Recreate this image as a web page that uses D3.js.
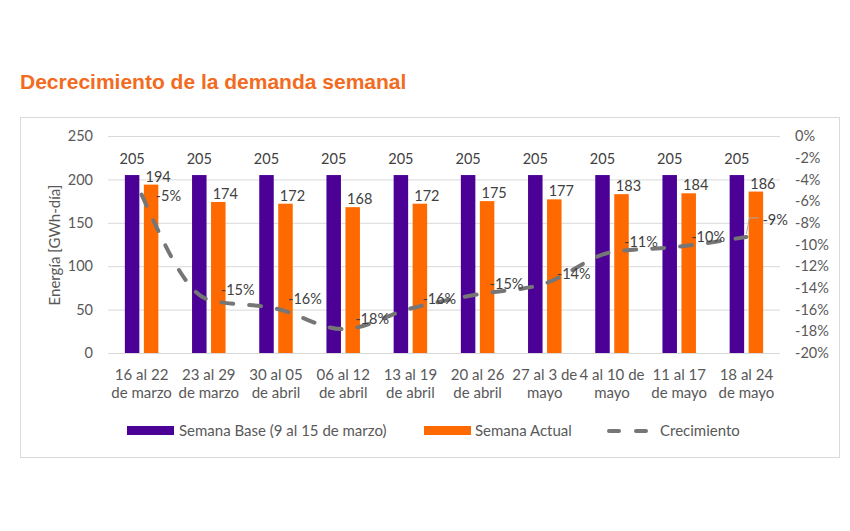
<!DOCTYPE html>
<html>
<head>
<meta charset="utf-8">
<script src="https://cdn.jsdelivr.net/npm/d3@7"></script>
<style>
  html, body { margin: 0; padding: 0; background: #ffffff; }
  svg { display: block; }
</style>
</head>
<body>
<svg id="chart" width="850" height="531"></svg>
<script>
// ---------------- DATA ----------------
const categoriesLine1 = ["16 al 22", "23 al 29", "30 al 05", "06 al 12", "13 al 19", "20 al 26", "27 al 3 de", "4 al 10 de", "11 al 17", "18 al 24"];
const categoriesLine2 = ["de marzo", "de marzo", "de abril", "de abril", "de abril", "de abril", "mayo", "mayo", "de mayo", "de mayo"];
const semanaBase   = [205, 205, 205, 205, 205, 205, 205, 205, 205, 205];
const semanaActual = [194, 174, 172, 168, 172, 175, 177, 183, 184, 186];
const crecimiento  = [-5.4, -15.1, -15.9, -17.8, -15.9, -14.6, -13.6, -10.7, -10.2, -9.3]; // percent
const leftTicks  = [0, 50, 100, 150, 200, 250];
const rightTicks = [0, -2, -4, -6, -8, -10, -12, -14, -16, -18, -20];
const seriesNames = ["Semana Base (9 al 15 de marzo)", "Semana Actual", "Crecimiento"];
const titleText = "Decrecimiento de la demanda semanal";
const yTitle = "Energía [GWh-día]";

// ---------------- LAYOUT ----------------
const purple = "#4B0096", orange = "#FF6A00", lineGray = "#767676";
const textGray = "#595959", labelGray = "#404040";
const FONT = "Lato, 'Open Sans', sans-serif";
const plot = { left: 108, right: 780, top: 136, bottom: 353 };

const svg = d3.select("#chart");
const idx = d3.range(categoriesLine1.length);

// Title
svg.append("text")
  .attr("x", 20).attr("y", 89)
  .attr("font-family", "'Liberation Sans', Arial, sans-serif")
  .attr("font-weight", "bold").attr("font-size", 21)
  .attr("fill", "#F26B1F")
  .text(titleText);

// Frame
svg.append("rect")
  .attr("x", 20.5).attr("y", 117.5).attr("width", 819).attr("height", 340)
  .attr("fill", "none").attr("stroke", "#d9d9d9").attr("stroke-width", 1);

// Scales
const x0 = d3.scaleBand().domain(idx).range([plot.left, plot.right]).paddingInner(0).paddingOuter(0);
const gw = x0.bandwidth();
const x1 = d3.scaleBand().domain(["base", "actual"])
  .range([gw / 2 - 16.75, gw / 2 + 16.75]).paddingInner(0.237).paddingOuter(0);
const y = d3.scaleLinear().domain([0, 250]).range([plot.bottom, plot.top]);
const y2 = d3.scaleLinear().domain([-20, 0]).range([plot.bottom, plot.top]);

// Left axis + gridlines
const gL = svg.append("g").attr("transform", `translate(${plot.left},0)`)
  .call(d3.axisLeft(y).tickValues(leftTicks).tickSize(-(plot.right - plot.left)).tickPadding(15));
gL.select(".domain").remove();
gL.selectAll(".tick line").attr("stroke", "#d9d9d9").attr("stroke-width", 1);
gL.selectAll(".tick text").attr("font-family", FONT).attr("font-size", 14.5).attr("fill", textGray);

// Right axis
const gR = svg.append("g").attr("transform", `translate(${plot.right},0)`)
  .call(d3.axisRight(y2).tickValues(rightTicks).tickSize(0).tickPadding(15)
    .tickFormat(d => Math.round(d) + "%"));
gR.select(".domain").remove();
gR.selectAll(".tick text").attr("font-family", FONT).attr("font-size", 14.5).attr("fill", textGray);

// Y title
svg.append("text")
  .attr("transform", "translate(60,245) rotate(-90)")
  .attr("text-anchor", "middle")
  .attr("font-family", FONT).attr("font-size", 15).attr("fill", textGray)
  .text(yTitle);

// Bars
const groups = svg.append("g").selectAll("g").data(idx).join("g")
  .attr("transform", i => `translate(${x0(i)},0)`);

groups.append("rect")
  .attr("x", x1("base")).attr("width", x1.bandwidth())
  .attr("y", i => y(semanaBase[i])).attr("height", i => y(0) - y(semanaBase[i]))
  .attr("fill", purple);
groups.append("rect")
  .attr("x", x1("actual")).attr("width", x1.bandwidth())
  .attr("y", i => y(semanaActual[i])).attr("height", i => y(0) - y(semanaActual[i]))
  .attr("fill", orange);

groups.append("text")
  .attr("x", x1("base") + x1.bandwidth() / 2)
  .attr("y", i => y(semanaBase[i]) - 11)
  .attr("text-anchor", "middle")
  .attr("font-family", FONT).attr("font-size", 14.5).attr("fill", labelGray)
  .text(i => semanaBase[i]);
groups.append("text")
  .attr("x", x1("actual") + x1.bandwidth() / 2 + 7)
  .attr("y", i => y(semanaActual[i]) - 3)
  .attr("text-anchor", "middle")
  .attr("font-family", FONT).attr("font-size", 14.5).attr("fill", labelGray)
  .text(i => semanaActual[i]);

// Growth line
const cx = i => x0(i) + gw / 2;
const line = d3.line().x(i => cx(i)).y(i => y2(crecimiento[i])).curve(d3.curveMonotoneX);
svg.append("path")
  .attr("d", line(idx))
  .attr("fill", "none").attr("stroke", lineGray).attr("stroke-width", 4)
  .attr("stroke-dasharray", "12,16").attr("stroke-linecap", "round");

// Growth labels
const last = idx.length - 1;
const labelPos = i => {
  if (i === 0) return { dx: 14, dy: 1 };
  if (i === last) return { dx: 16, dy: -17 };
  return { dx: 12, dy: -10 };
};
// leader line for the displaced last label
{
  const px = cx(last), py = y2(crecimiento[last]);
  svg.append("path")
    .attr("d", `M${px},${py - 3} L${px + 3},${py - 19} L${px + 12},${py - 19}`)
    .attr("fill", "none").attr("stroke", "#a6a6a6").attr("stroke-width", 1);
}
svg.append("g").selectAll("text").data(idx).join("text")
  .attr("x", i => cx(i) + labelPos(i).dx)
  .attr("y", i => y2(crecimiento[i]) + labelPos(i).dy)
  .attr("dy", "0.35em")
  .attr("font-family", FONT).attr("font-size", 14.5).attr("fill", labelGray)
  .text(i => Math.round(crecimiento[i]) + "%");

// Category labels
const gX = svg.append("g").attr("transform", `translate(0,${plot.bottom})`)
  .call(d3.axisBottom(x0).tickSize(0).tickFormat(""));
gX.select(".domain").remove();
gX.selectAll(".tick").each(function (i) {
  const t = d3.select(this).append("text")
    .attr("text-anchor", "middle")
    .attr("font-family", FONT).attr("font-size", 15).attr("fill", textGray);
  t.append("tspan").attr("x", 0).attr("y", 27).text(categoriesLine1[i]);
  t.append("tspan").attr("x", 0).attr("y", 45).text(categoriesLine2[i]);
});

// Legend
const lg = svg.append("g").attr("font-family", FONT).attr("font-size", 15).attr("fill", textGray);
lg.append("rect").attr("x", 127).attr("y", 426).attr("width", 47).attr("height", 9).attr("fill", purple);
lg.append("text").attr("x", 179).attr("y", 431).attr("dy", "0.35em").text(seriesNames[0]);
lg.append("rect").attr("x", 424).attr("y", 426).attr("width", 47).attr("height", 9).attr("fill", orange);
lg.append("text").attr("x", 475).attr("y", 431).attr("dy", "0.35em").text(seriesNames[1]);
lg.append("line").attr("x1", 609).attr("x2", 654).attr("y1", 431).attr("y2", 431)
  .attr("stroke", lineGray).attr("stroke-width", 4).attr("stroke-linecap", "round")
  .attr("stroke-dasharray", "10,17");
lg.append("text").attr("x", 660).attr("y", 431).attr("dy", "0.35em").text(seriesNames[2]);
</script>
</body>
</html>
